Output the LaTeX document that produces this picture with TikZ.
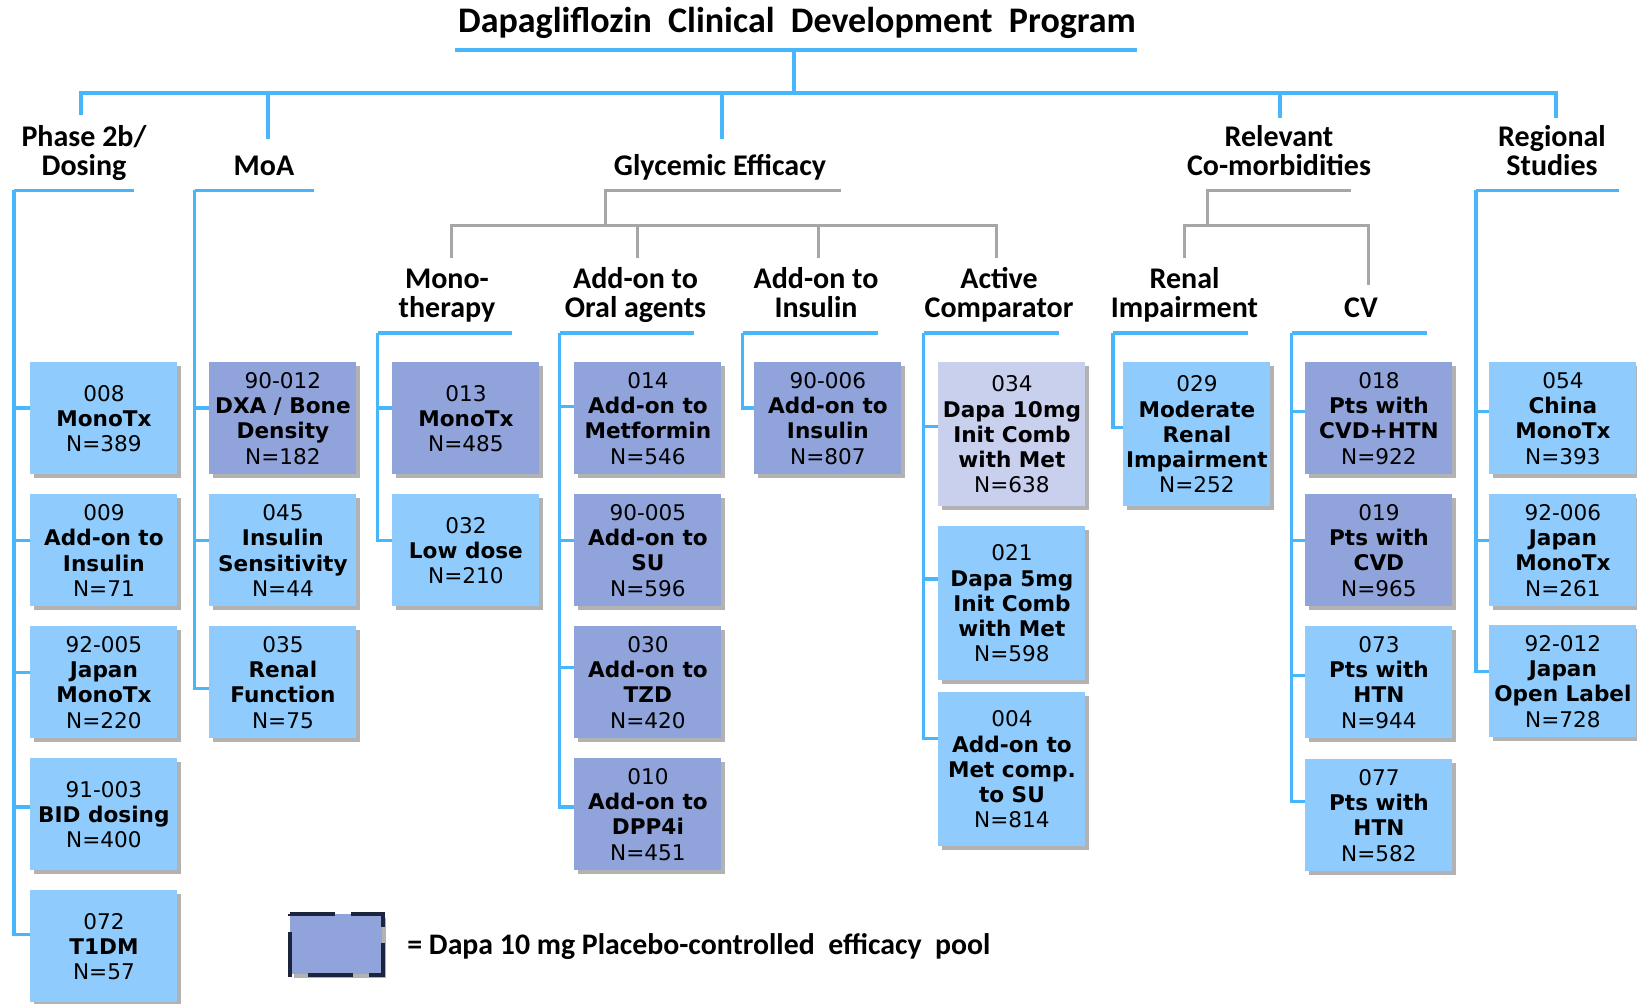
\documentclass[tikz,border=0pt]{standalone}
\usepackage{fontspec}
\setmainfont{Carlito}
\newfontfamily\boxfont{DejaVu Sans}
\usetikzlibrary{shadows}
\definecolor{lineblue}{RGB}{72,182,250}
\definecolor{lightbox}{RGB}{143,204,253}
\definecolor{poolbox}{RGB}{144,164,219}
\definecolor{palebox}{RGB}{200,208,238}
\definecolor{grayline}{RGB}{166,166,166}
\definecolor{navyline}{RGB}{28,36,62}
\newcommand\mytick[3]{\draw[bl] (#1) |- ([yshift=#3]#2.west);}
\tikzset{
  bl/.style={draw=lineblue, line width=1.65pt},
  gl/.style={draw=grayline, line width=1.5pt},
  stud/.style={rectangle, minimum width=73.5pt, minimum height=56pt, inner sep=0pt,
    align=center, anchor=north west,
    font=\boxfont\fontsize{10.8}{12.6}\selectfont,
    drop shadow={shadow xshift=1.8pt, shadow yshift=-1.8pt, opacity=0.3, fill=black}},
  lb/.style={stud, fill=lightbox},
  pb/.style={stud, fill=poolbox},
  vb/.style={stud, fill=palebox},
  cat/.style={align=center, inner sep=0pt, anchor=base,
    font=\bfseries\fontsize{15}{14.75}\selectfont},
}
\begin{document}
\begin{tikzpicture}[x=0.5pt, y=-0.5pt]
\useasboundingbox (0,0) rectangle (1637,1004);

% ---------- title ----------
\node[anchor=base, inner sep=0pt, font=\bfseries\fontsize{18}{20}\selectfont] (title) at (797,33)
  {Dapagliflozin~ Clinical~ Development~ Program};
\coordinate (tuL) at (455,50);
\coordinate (tuR) at (1137,50);
\coordinate (tuM) at (794,50);
\coordinate (hub) at (794,93);
\draw[bl] (tuL) -- (tuR);
\draw[bl] (tuM) -- (hub);
\coordinate (d1) at (81,115);
\coordinate (d2) at (268,139);
\coordinate (d3) at (722,139);
\coordinate (d4) at (1280,118);
\coordinate (d5) at (1556,118);
\draw[bl] (d1) -- (d1 |- hub) -- (d5 |- hub) -- (d5);
\draw[bl] (d2 |- hub) -- (d2);
\draw[bl] (d3 |- hub) -- (d3);
\draw[bl] (d4 |- hub) -- (d4);

% ---------- categories (base = last line) ----------
\node[cat] (c1) at (84,176) {Phase 2b/\\Dosing};
\node[cat] (c2) at (264,176) {MoA};
\node[cat] (c3) at (720,176) {Glycemic Efficacy};
\node[cat] (c4) at (1279,176) {Relevant\\Co-morbidities};
\node[cat] (c5) at (1552,176) {Regional\\Studies};

\coordinate (u1) at (14,190.5);    \coordinate (u1e) at (134,190.5);
\coordinate (u2) at (194.6,190.5); \coordinate (u2e) at (314,190.5);
\coordinate (u9) at (1476,190.5);  \coordinate (u9e) at (1619,190.5);
\draw[bl] (u1e) -- (u1);
\draw[bl] (u2e) -- (u2);
\draw[bl] (u9e) -- (u9);

% gray sub-trees
\coordinate (g1) at (605,190.5);  \coordinate (g1e) at (841,190.5);
\coordinate (g1b) at (605,226);
\coordinate (ga) at (451,258);
\coordinate (gb) at (637.5,258);
\coordinate (gc) at (818.5,258);
\coordinate (gd) at (996,258);
\draw[gl] (g1e) -- (g1) -- (g1b);
\draw[gl] (ga) -- (ga |- g1b) -- (gd |- g1b) -- (gd);
\draw[gl] (gb |- g1b) -- (gb);
\draw[gl] (gc |- g1b) -- (gc);
\coordinate (r1) at (1207,190.5); \coordinate (r1e) at (1351,190.5);
\coordinate (r1b) at (1207,226);
\coordinate (ra) at (1184.5,258);
\coordinate (rb) at (1368,285);
\draw[gl] (r1e) -- (r1) -- (r1b);
\draw[gl] (ra) -- (ra |- r1b) -- (rb |- r1b) -- (rb);

% ---------- sub-categories ----------
\node[cat] (s1) at (447,318) {Mono-\\therapy};
\node[cat] (s2) at (635.5,318) {Add-on to\\Oral agents};
\node[cat] (s3) at (816,318) {Add-on to\\Insulin};
\node[cat] (s4) at (999,318) {Active\\Comparator};
\node[cat] (s5) at (1184.5,318) {Renal\\Impairment};
\node[cat] (s6) at (1361,318) {CV};

\coordinate (u3) at (377.6,333);  \coordinate (u3e) at (511.5,333);
\coordinate (u4) at (559.6,333);  \coordinate (u4e) at (694,333);
\coordinate (u5) at (742.7,333);  \coordinate (u5e) at (877.5,333);
\coordinate (u6) at (923.6,333);  \coordinate (u6e) at (1059,333);
\coordinate (u7) at (1113,333);   \coordinate (u7e) at (1248,333);
\coordinate (u8) at (1291.5,333); \coordinate (u8e) at (1427,333);
\foreach \a in {3,...,8} {\draw[bl] (u\a e) -- (u\a);}

% ---------- column 1: Phase 2b / Dosing ----------
\node[lb] (b008) at (30,362) {008\\\textbf{MonoTx}\\N=389};
\node[lb] (b009) at (30,494) {009\\\textbf{Add-on to}\\\textbf{Insulin}\\N=71};
\node[lb] (b92005) at (30,626) {92-005\\\textbf{Japan}\\\textbf{MonoTx}\\N=220};
\node[lb] (b91003) at (30,758) {91-003\\\textbf{BID dosing}\\N=400};
\node[lb] (b072) at (30,890) {072\\\textbf{T1DM}\\N=57};
\mytick{u1}{b072}{6pt}
\mytick{u1}{b91003}{3.7pt}
\mytick{u1}{b92005}{5pt}
\mytick{u1}{b009}{5pt}
\mytick{u1}{b008}{5.25pt}

% ---------- column 2: MoA ----------
\node[pb] (b90012) at (209,362) {90-012\\\textbf{DXA / Bone}\\\textbf{Density}\\N=182};
\node[lb] (b045) at (209,494) {045\\\textbf{Insulin}\\\textbf{Sensitivity}\\N=44};
\node[lb] (b035) at (209,626) {035\\\textbf{Renal}\\\textbf{Function}\\N=75};
\mytick{u2}{b035}{-3pt}
\mytick{u2}{b045}{5pt}
\mytick{u2}{b90012}{5.25pt}

% ---------- column 3: Monotherapy ----------
\node[pb] (b013) at (392,362) {013\\\textbf{MonoTx}\\N=485};
\node[lb] (b032) at (392,494) {032\\\textbf{Low dose}\\N=210};
\mytick{u3}{b032}{5pt}
\mytick{u3}{b013}{5.25pt}

% ---------- column 4: Add-on to oral agents ----------
\node[pb] (b014) at (574,362) {014\\\textbf{Add-on to}\\\textbf{Metformin}\\N=546};
\node[pb] (b90005) at (574,494) {90-005\\\textbf{Add-on to}\\\textbf{SU}\\N=596};
\node[pb] (b030) at (574,626) {030\\\textbf{Add-on to}\\\textbf{TZD}\\N=420};
\node[pb] (b010) at (574,758) {010\\\textbf{Add-on to}\\\textbf{DPP4i}\\N=451};
\mytick{u4}{b010}{3.7pt}
\mytick{u4}{b030}{7.5pt}
\mytick{u4}{b90005}{5pt}
\mytick{u4}{b014}{6pt}

% ---------- column 5: Add-on to insulin ----------
\node[pb] (b90006) at (754,362) {90-006\\\textbf{Add-on to}\\\textbf{Insulin}\\N=807};
\mytick{u5}{b90006}{5.25pt}

% ---------- column 6: Active comparator ----------
\node[vb, minimum height=72pt] (b034) at (938,362) {034\\\textbf{Dapa 10mg}\\\textbf{Init Comb}\\\textbf{with Met}\\N=638};
\node[lb, minimum height=77pt] (b021) at (938,526) {021\\\textbf{Dapa 5mg}\\\textbf{Init Comb}\\\textbf{with Met}\\N=598};
\node[lb, minimum height=77pt] (b004) at (938,692) {004\\\textbf{Add-on to}\\\textbf{Met comp.}\\\textbf{to SU}\\N=814};
\mytick{u6}{b004}{15.5pt}
\mytick{u6}{b021}{12.25pt}
\mytick{u6}{b034}{4pt}

% ---------- column 7: Renal impairment ----------
\node[lb, minimum height=72pt] (b029) at (1123,362) {029\\\textbf{Moderate}\\\textbf{Renal}\\\textbf{Impairment}\\N=252};
\mytick{u7}{b029}{3.5pt}

% ---------- column 8: CV ----------
\node[pb] (b018) at (1305,362) {018\\\textbf{Pts with}\\\textbf{CVD+HTN}\\N=922};
\node[pb] (b019) at (1305,494) {019\\\textbf{Pts with}\\\textbf{CVD}\\N=965};
\node[lb] (b073) at (1305,626) {073\\\textbf{Pts with}\\\textbf{HTN}\\N=944};
\node[lb] (b077) at (1305,759) {077\\\textbf{Pts with}\\\textbf{HTN}\\N=582};
\mytick{u8}{b077}{7pt}
\mytick{u8}{b073}{3.5pt}
\mytick{u8}{b019}{5pt}
\mytick{u8}{b018}{3.5pt}

% ---------- column 9: Regional studies ----------
\node[lb] (b054) at (1489,362) {054\\\textbf{China}\\\textbf{MonoTx}\\N=393};
\node[lb] (b92006) at (1489,494) {92-006\\\textbf{Japan}\\\textbf{MonoTx}\\N=261};
\node[lb] (b92012) at (1489,625) {92-012\\\textbf{Japan}\\\textbf{Open Label}\\N=728};
\mytick{u9}{b92012}{5pt}
\mytick{u9}{b92006}{5pt}
\mytick{u9}{b054}{3.5pt}

% ---------- legend ----------
\node[fill=poolbox, minimum width=46pt, minimum height=30pt, inner sep=0pt, anchor=north west,
  drop shadow={shadow xshift=1.8pt, shadow yshift=-1.8pt, opacity=0.3, fill=black}] (leg) at (290,914) {};
\draw[navyline, line width=2pt, dash pattern=on 22.5pt off 8pt]
  (leg.north west) -- (leg.north east) -- (leg.south east) -- (leg.south west) -- cycle;
\node[anchor=base west, inner sep=0pt, font=\bfseries\fontsize{14.9}{16}\selectfont] (legtxt) at (407,954)
  {= Dapa 10 mg Placebo-controlled~ efficacy~ pool};
\end{tikzpicture}
\end{document}
